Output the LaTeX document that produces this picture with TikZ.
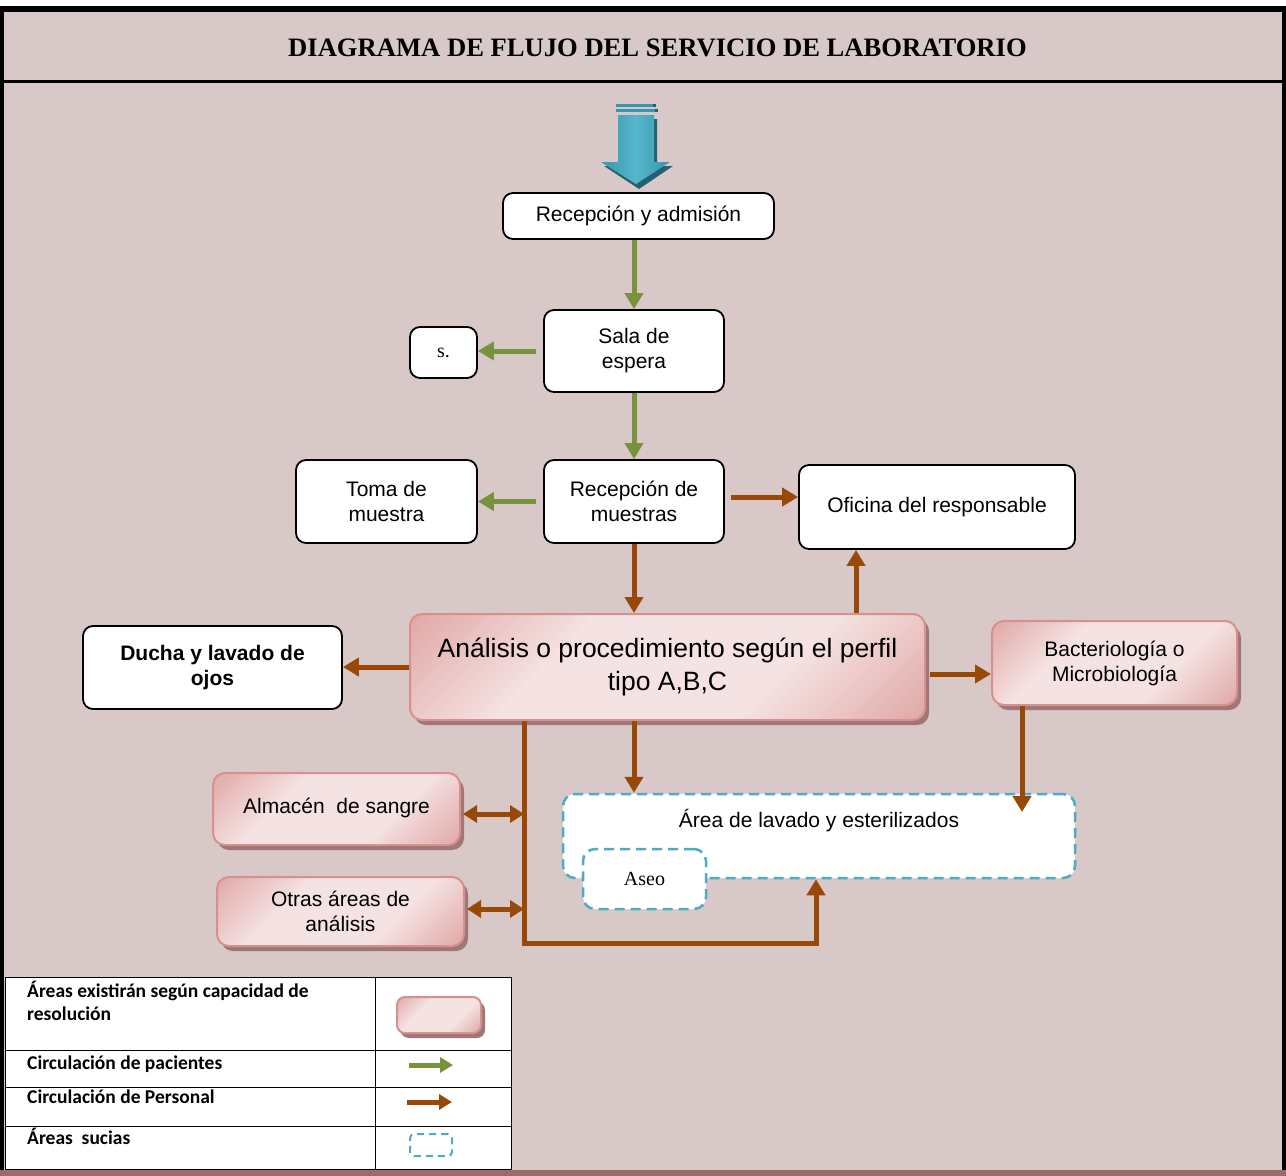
\documentclass[tikz,border=0pt]{standalone}
\usepackage{fontspec}
\setmainfont{Liberation Sans}
\newfontfamily\tnrfont{Liberation Serif}
\newfontfamily\legfont{Carlito}
\usetikzlibrary{arrows.meta,shadows}
\definecolor{bgc}{RGB}{217,200,200}
\definecolor{botc}{RGB}{158,107,107}
\definecolor{grn}{RGB}{119,147,60}
\definecolor{brn}{RGB}{152,72,7}
\definecolor{dashc}{RGB}{75,172,198}
\definecolor{pinkD}{RGB}{217,150,148}
\definecolor{pinkL}{RGB}{245,226,226}
\definecolor{pinkB}{RGB}{214,145,143}
\definecolor{shadowc}{RGB}{160,118,118}
\definecolor{tealM}{RGB}{56,150,172}
\definecolor{tealL}{RGB}{86,182,204}
\definecolor{tealD}{RGB}{36,98,114}
\pgfdeclarehorizontalshading{pinkshade}{100bp}{color(0bp)=(pinkD); color(8bp)=(pinkD); color(36bp)=(pinkL); color(64bp)=(pinkL); color(92bp)=(pinkD); color(100bp)=(pinkD)}
\tikzset{
  wbox/.style={draw=black, line width=1.8pt, rounded corners=10pt, fill=white, align=center, inner sep=2pt, font=\fontsize{21}{25}\selectfont},
  pbox/.style={draw=pinkB, line width=2pt, rounded corners=12pt, shading=pinkshade, shading angle=135,
    drop shadow={shadow xshift=4pt, shadow yshift=-5pt, fill=shadowc, opacity=1}, align=center, inner sep=2pt, font=\fontsize{21}{25}\selectfont},
  dbox/.style={draw=dashc, line width=2.5pt, dash pattern=on 10pt off 6pt, rounded corners=12pt, fill=white},
  garrow/.style={draw=grn, line width=5pt, -{Triangle[width=18pt,length=16pt]}},
  barrow/.style={draw=brn, line width=5pt, -{Triangle[width=18pt,length=16pt]}},
  bdarrow/.style={draw=brn, line width=5pt, {Triangle[width=17pt,length=14pt]}-{Triangle[width=17pt,length=14pt]}},
  legtext/.style={anchor=base west, inner sep=0pt, font=\legfont\bfseries\fontsize{19.5}{23}\selectfont},
}
\begin{document}
\begin{tikzpicture}[x=1pt, y=-1pt]
\useasboundingbox (0,0) rectangle (1286,1176);
% frame
\fill[white] (0,0) rectangle (1286,1176);
\fill[bgc] (0,6) rectangle (1286,1176);
\fill[black] (0,6) rectangle (1286,12);
\fill[black] (0,6) rectangle (4,1170);
\fill[black] (1282,6) rectangle (1286,1170);
\fill[black] (0,80) rectangle (1286,83);
\fill[botc] (0,1170) rectangle (1286,1176);
% title
\node[font=\tnrfont\bfseries\fontsize{26.6}{30}\selectfont, inner sep=0pt] (title) at (657.5,48) {DIAGRAMA DE FLUJO DEL SERVICIO DE LABORATORIO};
% blue entry arrow
\fill[tealD] (621,119) -- (657,119) -- (657,166) -- (673,166) -- (639,189) -- (604,166) -- (621,166) -- cycle;
\shade[left color=tealM, right color=tealM, middle color=tealL] (618,115) -- (654,115) -- (654,162) -- (670,162) -- (636,184) -- (601,162) -- (618,162) -- cycle;
\fill[tealM] (616,104) rectangle (653,107);
\fill[tealM] (616,109) rectangle (655,112);
\fill[tealD] (653,104) rectangle (656,107);
\fill[tealD] (655,109) rectangle (658,112);
% nodes
\node[wbox, minimum width=271pt, minimum height=46pt] (rec) at (638.5,216) {Recepción y admisión};
\node[wbox, minimum width=180pt, minimum height=82pt] (sala) at (634,351) {Sala de\\espera};
\node[wbox, minimum width=67pt, minimum height=51pt, font=\tnrfont\fontsize{20}{24}\selectfont] (s) at (443.5,352.5) {s.};
\node[wbox, minimum width=181pt, minimum height=83pt] (toma) at (386.5,501.5) {Toma de\\muestra};
\node[wbox, minimum width=180pt, minimum height=83pt] (rm) at (634,501.5) {Recepción de\\muestras};
\node[wbox, minimum width=276pt, minimum height=84pt] (of) at (937,507) {Oficina del responsable};
\node[wbox, minimum width=259pt, minimum height=83pt, font=\bfseries\fontsize{21}{25}\selectfont] (du) at (212.5,667.5) {Ducha y lavado de\\ojos};
\node[pbox, minimum width=515pt, minimum height=106pt, font=\fontsize{26.5}{33}\selectfont] (an) at (667.5,667) {Análisis o procedimiento según el perfil\\tipo A,B,C};
\node[pbox, minimum width=245pt, minimum height=84pt] (ba) at (1114.5,663) {Bacteriología o\\Microbiología};
\node[pbox, minimum width=247pt, minimum height=72pt] (alm) at (336.5,809) {\raisebox{7pt}{Almacén\ \ de sangre}};
\node[pbox, minimum width=247pt, minimum height=69pt] (ot) at (340.5,911.5) {Otras áreas de\\análisis};
\node[dbox, minimum width=512pt, minimum height=84pt] (lav) at (819,836) {};
\node[font=\fontsize{21}{25}\selectfont, inner sep=0pt] (lavt) at (819,821) {Área de lavado y esterilizados};
\node[dbox, minimum width=123pt, minimum height=60pt, font=\tnrfont\fontsize{20}{24}\selectfont] (aseo) at (644.5,879) {Aseo};
% connectors
\coordinate (yA) at (0,497);
\coordinate (yB) at (0,674);
\coordinate (xO) at (856,0);
\coordinate (pB) at (1022,812);
\coordinate (L1) at (524,943);
\coordinate (L2) at (816,943);
\coordinate (D1) at (524,814);
\coordinate (D2) at (524,909);
\draw[garrow] (rec.south -| sala.north) -- (sala.north);
\draw[garrow, shorten <=7pt] (sala.west) -- (sala.west -| s.east);
\draw[garrow] (sala.south) -- (rm.north);
\draw[garrow, shorten <=7pt] (rm.west) -- (rm.west -| toma.east);
\draw[barrow, shorten <=6pt] (rm.east |- yA) -- (of.west |- yA);
\draw[barrow] (rm.south) -- (an.north -| rm.south);
\draw[barrow] (an.north -| xO) -- (of.south -| xO);
\draw[barrow] (an.west) -- (du.east |- an.west);
\draw[barrow, shorten <=4pt] (an.east |- yB) -- (ba.west |- yB);
\draw[barrow] (ba.south -| pB) -- (pB);
\draw[barrow] (an.south -| rm.south) -- (lav.north -| rm.south);
\draw[barrow] (an.south -| L1) -- (L1) -- (L2) -- (lav.south -| L2);
\draw[bdarrow, shorten <=2pt] (alm.east |- D1) -- (D1);
\draw[bdarrow, shorten <=2pt] (ot.east |- D2) -- (D2);
% legend
\draw[black, line width=0.8pt, fill=white] (5,977) rectangle (511,1169);
\draw[black, line width=0.8pt] (5,1050) -- (511,1050) (5,1087) -- (511,1087) (5,1126) -- (511,1126) (375,977) -- (375,1169);
\node[legtext] (lg1) at (27,997) {Áreas existirán según capacidad de};
\node[legtext] (lg1b) at (27,1020) {resolución};
\node[legtext] (lg2) at (27,1069) {Circulación de pacientes};
\node[legtext] (lg3) at (27,1103) {Circulación de Personal};
\node[legtext] (lg4) at (27,1144) {Áreas\ \ sucias};
\node[pbox, minimum width=84pt, minimum height=36pt, rounded corners=8pt, drop shadow={shadow xshift=3pt, shadow yshift=-4pt, fill=shadowc, opacity=1}] (lgp) at (439,1015) {};
\coordinate (g1) at (409,1065);
\coordinate (g2) at (453,1065);
\coordinate (b1) at (407,1102);
\coordinate (b2) at (452,1102);
\draw[draw=grn, line width=5pt, -{Triangle[width=15pt,length=13pt]}] (g1) -- (g2);
\draw[draw=brn, line width=5pt, -{Triangle[width=15pt,length=13pt]}] (b1) -- (b2);
\node[draw=dashc, line width=2pt, dash pattern=on 7pt off 5pt, rounded corners=4pt, fill=white, minimum width=42pt, minimum height=22pt] (lgd) at (431,1145) {};
\end{tikzpicture}
\end{document}
